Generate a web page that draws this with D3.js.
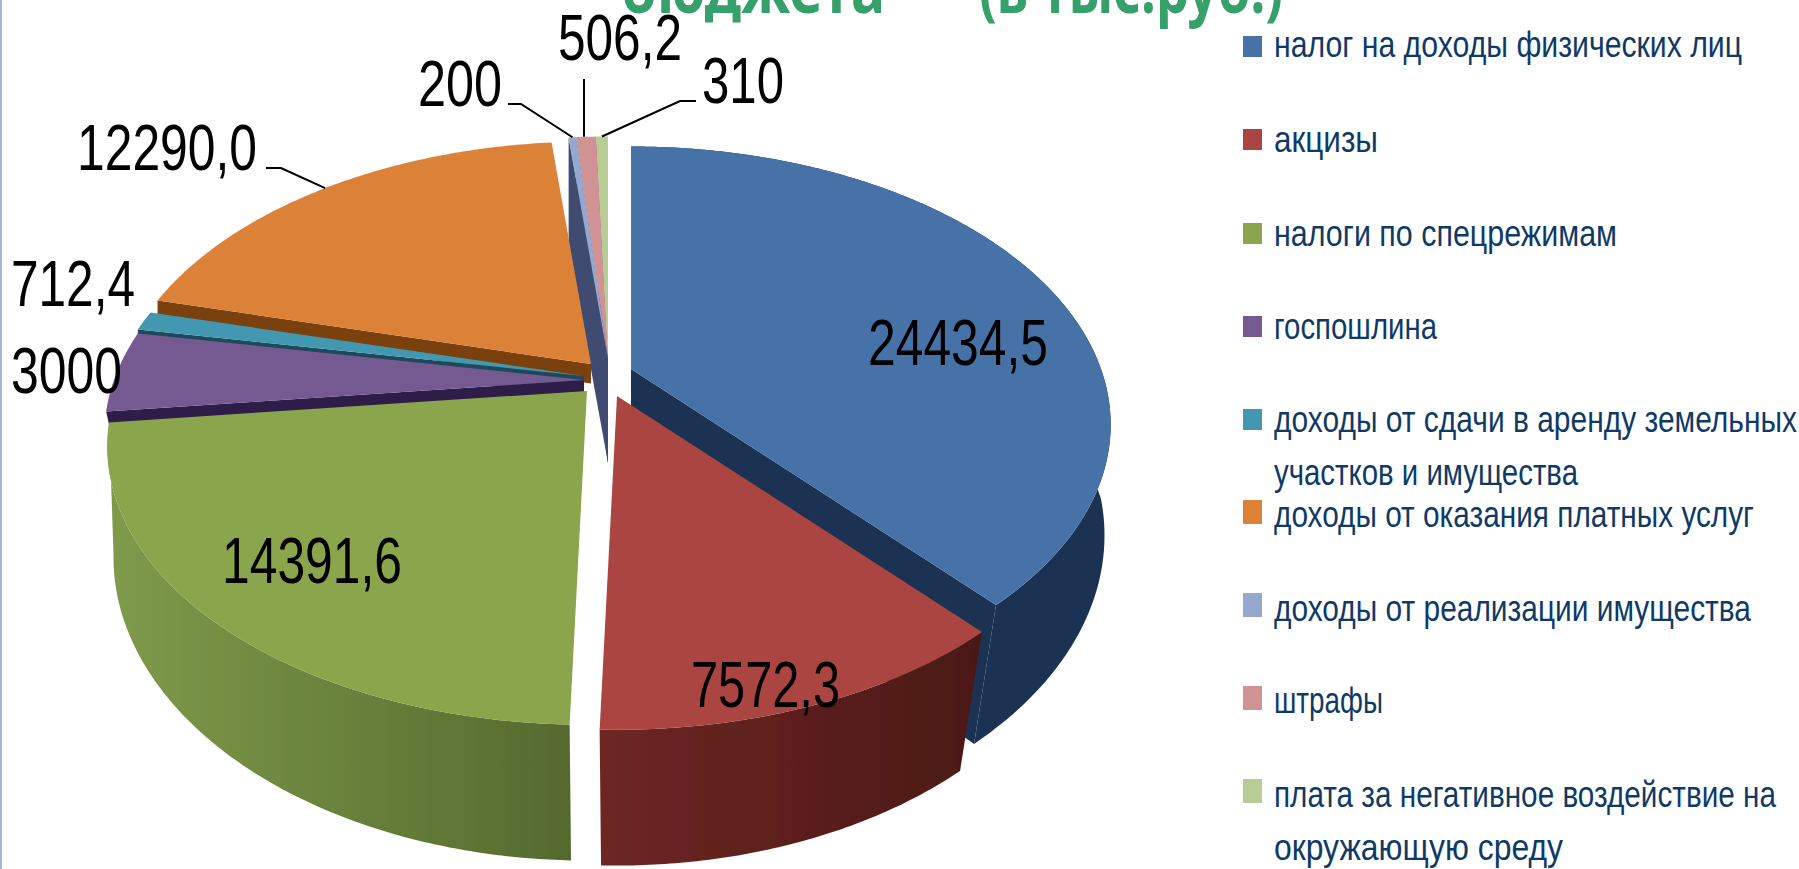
<!DOCTYPE html>
<html><head><meta charset="utf-8">
<script src="https://cdnjs.cloudflare.com/ajax/libs/d3/7.8.5/d3.min.js"></script>
<style>html,body{margin:0;padding:0;background:#fff;overflow:hidden}svg{display:block}</style>
</head><body><div id="c"></div>
<script>
// ---- data ----
const categories = ["налог на доходы физических лиц","акцизы","налоги по спецрежимам","госпошлина","доходы от сдачи в аренду земельных участков и имущества","доходы от оказания платных услуг","доходы от реализации имущества","штрафы","плата за негативное воздействие на окружающую среду"];
const values = [24434.5,7572.3,14391.6,3000,712.4,12290,200,506.2,310];
const valueLabels = ["24434,5","7572,3","14391,6","3000","712,4","12290,0","200","506,2","310"];
const titleParts = ["бюджета","(в тыс.руб.)"];
// ---- styles ----
const topColors  = ["#4672a8","#ab4543","#8ba54e","#755a91","#4398b0","#dc8239","#94a8ce","#d09292","#b8cd96"];
const wallColors = ["#1a3353","url(#gRed)","url(#gGreen)","#2e1f4a","#1d4a5c","#7a3f0c","#3f4b72","#3f4b72","#3f4b72"];
// ---- layout ----
const W=1799,H=869;
const base={x:600,y:375}, R=470, kR=267, persp=.2, depth=130, shrinkNear=.08;
const explodeDx=[31,17,-13,-16,-16,-9,8,8,8];
const explodeDy=[-6,21,16,5,1,-11,-16,-16,-16];
const apexDepth=[1,1,1,.15,.15,.15,.8,.8,.8];
const rimDepth=[1,1,1,.15,.15,.15,1,1,1];
const paintOrder=[8,7,6,0,5,4,3,2,1];
const labelBox=[[868,365,180],[691,707,149],[222,583,180],[11,393,111],[11,306,124],[77,170,180],[418,106,84],[558,60,124],[702,103,82]];
const leaderStart={5:[266,168,281,168],6:[508,104,521,104],7:[584,79,584,79],8:[696,101,680,101]};
const legendRows=[
 {t:["налог на доходы физических лиц"],y:[57],w:[468],sy:36,sh:21},
 {t:["акцизы"],y:[152],w:[104],sy:129,sh:21},
 {t:["налоги по спецрежимам"],y:[246],w:[343],sy:223,sh:21},
 {t:["госпошлина"],y:[339],w:[163],sy:316,sh:21},
 {t:["доходы от сдачи в аренду земельных","участков и имущества"],y:[432,485],w:[523,304],sy:409,sh:21},
 {t:["доходы от оказания платных услуг"],y:[527],w:[480],sy:500,sh:24},
 {t:["доходы от реализации имущества"],y:[621],w:[477],sy:593,sh:24},
 {t:["штрафы"],y:[713],w:[109],sy:686,sh:24},
 {t:["плата за негативное воздействие на","окружающую среду"],y:[807,860],w:[502,289],sy:779,sh:24}];

const svg=d3.select("#c").append("svg").attr("width",W).attr("height",H);
const defs=svg.append("defs");
function grad(id,x1,x2,c1,c2){const g=defs.append("linearGradient").attr("id",id).attr("gradientUnits","userSpaceOnUse").attr("x1",x1).attr("x2",x2).attr("y1",0).attr("y2",0);
 g.append("stop").attr("offset",0).attr("stop-color",c1);g.append("stop").attr("offset",1).attr("stop-color",c2);}
grad("gGreen",110,575,"#7f9a4a","#54692e");
grad("gRed",600,980,"#6e2623","#4a1917");
defs.append("filter").attr("id","soft").append("feGaussianBlur").attr("stdDeviation",.7);

svg.append("rect").attr("x",0).attr("y",0).attr("width",2).attr("height",H).attr("fill","#a9b8d0");

const arcs=d3.pie().value(d=>d).sort(null).startAngle(0).endAngle(2*Math.PI)(values);
function project(i,a,r,z){
 const X=Math.sin(a)*r,Y=-Math.cos(a)*r,f=1/(1-persp*Y),s=z?1-shrinkNear*Math.max(0,Y):1;
 return [base.x+explodeDx[i]+X*R*f*s, base.y+explodeDy[i]+Y*kR*f*s+z*depth*f];
}
const line=d3.line();
const pie=svg.append("g").attr("filter","url(#soft)");
function rim(d,i,z){const n=Math.max(2,Math.ceil((d.endAngle-d.startAngle)/.01));
 return d3.range(n+1).map(k=>project(i,d.startAngle+(d.endAngle-d.startAngle)*k/n,1,z));}
function radial(i,a){return [project(i,a,0,0),project(i,a,1,0),project(i,a,1,rimDepth[i]),project(i,a,0,apexDepth[i])];}
paintOrder.forEach(i=>{
 const d=arcs[i],g=pie.append("g"),mid=(d.startAngle+d.endAngle)/2;
 if(d.startAngle>200*Math.PI/180) g.append("path").attr("d",line(radial(i,d.startAngle))+"Z").attr("fill",wallColors[i]);
 if(d.endAngle<Math.PI) g.append("path").attr("d",line(radial(i,d.endAngle))+"Z").attr("fill",wallColors[i]);
 // the outer wall only shows on the right half and the front of the pie
 if(Math.sin(mid)>0||-Math.cos(mid)>.05) g.append("path").attr("d",line(rim(d,i,0).concat(rim(d,i,1).reverse()))+"Z").attr("fill",wallColors[i]);
 g.append("path").attr("d",line([project(i,0,0,0)].concat(rim(d,i,0)))+"Z").attr("fill",topColors[i]);
});

// leaders
const leaders=svg.append("g");
Object.keys(leaderStart).forEach(k=>{
 const i=+k,s=leaderStart[i],d=arcs[i],e=project(i,(d.startAngle+d.endAngle)/2,1,0);
 leaders.append("path").attr("d",line([[s[0],s[1]],[s[2],s[3]],[i==7?s[0]:e[0],e[1]]])).attr("fill","none").attr("stroke","#000").attr("stroke-width",2);
});

const font="'Liberation Sans Narrow','Liberation Sans',sans-serif";
svg.append("g").selectAll("text").data(valueLabels).join("text")
 .attr("x",(d,i)=>labelBox[i][0]).attr("y",(d,i)=>labelBox[i][1])
 .attr("textLength",(d,i)=>labelBox[i][2]).attr("lengthAdjust","spacingAndGlyphs")
 .attr("font-family",font).attr("font-size",64).attr("fill","#000").text(d=>d);

// title
const titleBox=[[621,264],[979,304]];
svg.append("g").selectAll("text").data(titleParts).join("text")
 .attr("x",(d,i)=>titleBox[i][0]).attr("y",13).attr("textLength",(d,i)=>titleBox[i][1]).attr("lengthAdjust","spacingAndGlyphs")
 .attr("font-family","'Noto Sans','Open Sans',sans-serif").attr("font-weight",700).attr("font-size",68).attr("fill","#35a06a").text(d=>d);

// legend
const lg=svg.append("g");
legendRows.forEach((r,i)=>{
 lg.append("rect").attr("x",1243).attr("y",r.sy).attr("width",19).attr("height",r.sh).attr("fill",topColors[i]);
 r.t.forEach((t,k)=>lg.append("text").attr("x",1274).attr("y",r.y[k]).attr("textLength",r.w[k]).attr("lengthAdjust","spacingAndGlyphs")
  .attr("font-family",font).attr("font-size",36).attr("fill","#0f3a68").text(t));
});
</script></body></html>
